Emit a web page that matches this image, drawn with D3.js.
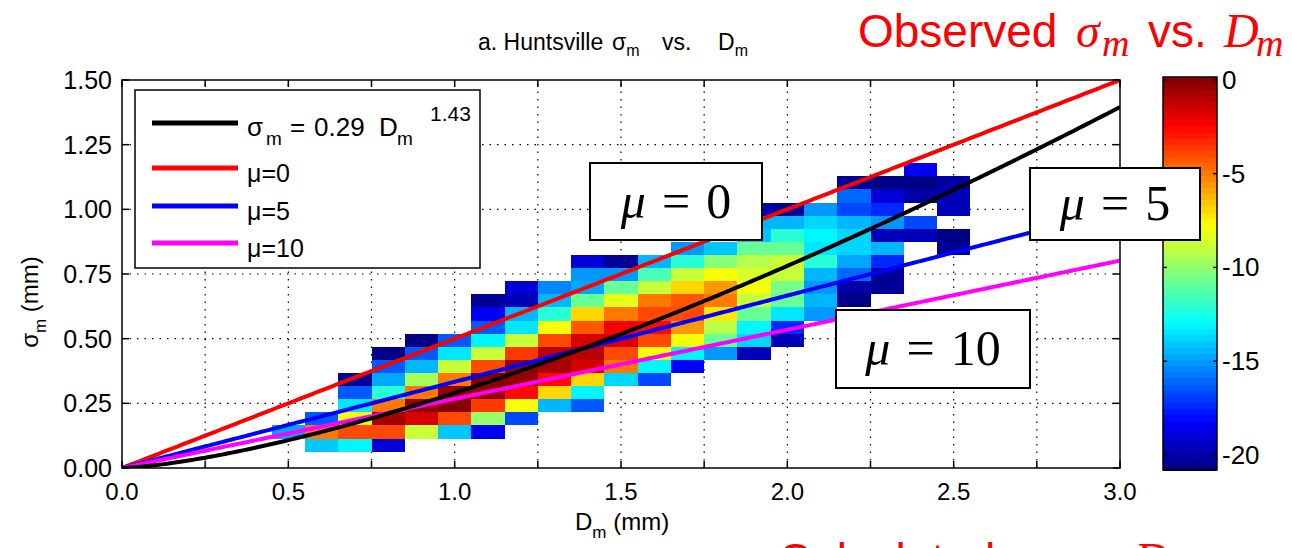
<!DOCTYPE html>
<html><head><meta charset="utf-8">
<script src="https://cdn.jsdelivr.net/npm/d3@7"></script>
<style>
  body { margin: 0; background: #fff; }
  svg { font-family: "Liberation Sans", Arial, sans-serif; }
</style>
</head><body>
<svg id="chart" width="1292" height="548"></svg>
<script>
// ---------- data ----------
// Dm bin centres (mm); each bin is 0.1 mm wide
const dmCenters = [0.5,0.6,0.7,0.8,0.9,1.0,1.1,1.2,1.3,1.4,1.5,1.6,1.7,1.8,1.9,2.0,2.1,2.2,2.3,2.4,2.5];
// sigma_m bins: lower edge of first bin and bin width (mm)
const sigmaFirstEdge = 0.063;
const sigmaBinWidth = 0.0507;
// log frequency of each (Dm, sigma_m) bin, lowest sigma bin first; null = empty
const logFreq = [
  [null, -14.8],
  [-14.0, -4.9, -16.4],
  [-13.0, -4.0, -8.0, -13.5, -16.4, -20.3],
  [-19.0, -4.0, -0.8, -4.9, -12.0, -14.8, -16.4, -20.5],
  [null, -8.8, -1.5, -0.3, -4.9, -9.5, -14.4, -16.4, -20.5],
  [null, -14.0, -4.0, -0.1, -0.2, -4.9, -9.0, -13.5, -16.4],
  [null, -18.5, -9.8, -3.7, -0.2, -0.1, -4.0, -8.8, -13.0, -16.4, -18.5, -20.3],
  [null, null, -16.6, -7.8, -2.5, -0.3, -0.5, -3.5, -9.0, -13.5, -14.3, -19.8, -19.0],
  [null, null, null, -14.3, -6.8, -2.5, -0.8, -1.0, -4.0, -8.0, -12.0, -14.5, -15.5],
  [null, null, null, -16.4, -13.0, -6.8, -1.8, -1.0, -1.8, -4.2, -7.0, -10.8, -14.8, -15.2, -19.0],
  [null, null, null, null, null, -13.6, -5.0, -4.0, -1.7, -2.2, -4.9, -8.3, -10.8, -15.0, -20.3],
  [null, null, null, null, null, -16.6, -13.0, -7.8, -4.0, -2.7, -4.0, -4.9, -8.7, -11.5, -14.4],
  [null, null, null, null, null, null, -18.5, -13.0, -8.0, -5.5, -4.0, -4.2, -6.8, -8.7, -12.0, -15.2],
  [null, null, null, null, null, null, null, -15.0, -10.8, -9.3, -7.3, -5.0, -5.5, -8.0, -10.0, -14.0],
  [null, null, null, null, null, null, null, -19.8, -13.8, -13.0, -10.8, -8.8, -7.8, -8.5, -9.3, -10.8, -14.2, -14.4, -19.5],
  [null, null, null, null, null, null, null, null, -19.5, -17.3, -13.5, -10.8, -10.5, -9.0, -8.8, -10.8, -12.0, -14.3, -20.3],
  [null, null, null, null, null, null, null, null, null, null, -15.2, -14.3, -15.2, -14.3, -12.0, -13.5, -13.2, -13.6, -15.2],
  [null, null, null, null, null, null, null, null, null, null, null, -20.5, -20.0, -16.2, -14.8, -13.8, -13.6, -14.4, -16.6, -16.0, -20.3],
  [null, null, null, null, null, null, null, null, null, null, null, null, -20.3, -20.3, -17.5, -14.5, -19.8, -15.2, -17.5, -19.0, -20.5],
  [null, null, null, null, null, null, null, null, null, null, null, null, null, null, null, null, -19.5, -16.6, null, -20.0, -20.7, -18.3],
  [null, null, null, null, null, null, null, null, null, null, null, null, null, null, null, -20.3, -20.5, null, -19.5, -19.8, -20.0]
];
// fitted power law sigma_m = a * Dm^b
const fitCoef = 0.29, fitExp = 1.43;
// gamma shape parameters for the theoretical curves
const muValues = [0, 5, 10];
const muColors = ["#ff0000", "#0000ff", "#ff00ff"];
// tick values
const xTicks = [0, 0.25, 0.5, 0.75, 1, 1.25, 1.5, 1.75, 2, 2.25, 2.5, 2.75, 3];
const xTickLabels = [0, 0.5, 1, 1.5, 2, 2.5, 3];
const yTicks = [0, 0.25, 0.5, 0.75, 1, 1.25, 1.5];
const cTicks = [0, -5, -10, -15, -20];
const cDomain = [-20.8, 0.15];

// ---------- layout ----------
const svg = d3.select("#chart");
const x = d3.scaleLinear().domain([0, 3]).range([122, 1120]);
const y = d3.scaleLinear().domain([0, 1.5]).range([468, 80]);
const SERIF = "'Liberation Serif', 'DejaVu Serif', serif";

// MATLAB jet colormap, 64 levels
function jet(f) {
  const c = v => Math.max(0, Math.min(1, v));
  const r = c(1.5 - Math.abs(4 * f - 3)), g = c(1.5 - Math.abs(4 * f - 2)), b = c(1.5 - Math.abs(4 * f - 1));
  return d3.rgb(r * 255, g * 255, b * 255).formatHex();
}
const nLevels = 64;
const level = d3.scaleQuantize().domain(cDomain).range(d3.range(nLevels));
const colorOf = v => jet((level(v) + 0.5) / nLevels);

// ---------- grid ----------
const grid = svg.append("g").attr("stroke", "#000").attr("stroke-width", 1.2)
  .attr("stroke-dasharray", "1.5,6");
grid.selectAll("line.gx").data(xTicks.slice(1, -1)).join("line")
  .attr("class", "gx")
  .attr("x1", d => x(d)).attr("x2", d => x(d)).attr("y1", y(0)).attr("y2", y(1.5));
grid.selectAll("line.gy").data(yTicks.slice(1, -1)).join("line")
  .attr("class", "gy")
  .attr("y1", d => y(d)).attr("y2", d => y(d)).attr("x1", x(0)).attr("x2", x(3));

// ---------- histogram cells ----------
const cells = [];
logFreq.forEach((col, i) => col.forEach((v, j) => {
  if (v !== null) cells.push({ d: dmCenters[i], lo: sigmaFirstEdge + j * sigmaBinWidth, v });
}));
svg.append("g").attr("shape-rendering", "crispEdges")
  .selectAll("rect").data(cells).join("rect")
  .attr("x", d => x(d.d - 0.05)).attr("width", d => x(d.d + 0.05) - x(d.d - 0.05))
  .attr("y", d => y(d.lo + sigmaBinWidth)).attr("height", d => y(d.lo) - y(d.lo + sigmaBinWidth))
  .attr("fill", d => colorOf(d.v));

// ---------- curves ----------
svg.append("clipPath").attr("id", "plotClip").append("rect")
  .attr("x", x(0)).attr("y", y(1.5)).attr("width", x(3) - x(0)).attr("height", y(0) - y(1.5));
const dGrid = d3.range(0, 3.0001, 0.01);
const line = d3.line().x(d => x(d[0])).y(d => y(d[1]));
const curves = svg.append("g").attr("clip-path", "url(#plotClip)").attr("fill", "none").attr("stroke-width", 4);
muValues.forEach((mu, i) => {
  curves.append("path").attr("stroke", muColors[i])
    .attr("d", line(dGrid.map(d => [d, d / Math.sqrt(4 + mu)])));
});
curves.append("path").attr("stroke", "#000")
  .attr("d", line(dGrid.map(d => [d, fitCoef * Math.pow(d, fitExp)])));

// ---------- axes frame and ticks ----------
const axes = svg.append("g").attr("stroke", "#000").attr("stroke-width", 1.5);
axes.append("rect").attr("x", x(0)).attr("y", y(1.5)).attr("width", x(3) - x(0)).attr("height", y(0) - y(1.5))
  .attr("fill", "none");
const tl = 7;
xTicks.forEach(t => {
  axes.append("line").attr("x1", x(t)).attr("x2", x(t)).attr("y1", y(0)).attr("y2", y(0) - tl);
  axes.append("line").attr("x1", x(t)).attr("x2", x(t)).attr("y1", y(1.5)).attr("y2", y(1.5) + tl);
});
yTicks.forEach(t => {
  axes.append("line").attr("y1", y(t)).attr("y2", y(t)).attr("x1", x(0)).attr("x2", x(0) + tl);
  axes.append("line").attr("y1", y(t)).attr("y2", y(t)).attr("x1", x(3)).attr("x2", x(3) - tl);
});
svg.append("g").selectAll("text").data(xTickLabels).join("text")
  .attr("x", d => x(d)).attr("y", 500).attr("text-anchor", "middle")
  .attr("font-size", 24).text(d => d.toFixed(1));
svg.append("g").selectAll("text").data(yTicks).join("text")
  .attr("x", 112).attr("y", d => y(d) + 9).attr("text-anchor", "end")
  .attr("font-size", 25).text(d => d.toFixed(2));

// axis titles
const xl = svg.append("text").attr("x", 575).attr("y", 530).attr("font-size", 24);
xl.append("tspan").text("D");
xl.append("tspan").attr("dy", 8).attr("font-size", 17).text("m");
xl.append("tspan").attr("dy", -8).text(" (mm)");
const yl = svg.append("text").attr("transform", "translate(38,302) rotate(-90)")
  .attr("text-anchor", "middle").attr("font-size", 24);
yl.append("tspan").text("σ");
yl.append("tspan").attr("dy", 8).attr("font-size", 17).text("m");
yl.append("tspan").attr("dy", -8).text(" (mm)");

// title
const title = svg.append("text").attr("y", 50).attr("font-size", 23);
title.append("tspan").attr("x", 478).text("a. Huntsville");
title.append("tspan").attr("x", 612).text("σ");
title.append("tspan").attr("dy", 6).attr("font-size", 16).text("m");
title.append("tspan").attr("x", 662).attr("dy", -6).text("vs.");
title.append("tspan").attr("x", 718).text("D");
title.append("tspan").attr("dy", 6).attr("font-size", 16).text("m");

// ---------- legend ----------
const lg = svg.append("g");
lg.append("rect").attr("x", 135).attr("y", 90).attr("width", 345).attr("height", 178)
  .attr("fill", "#fff").attr("stroke", "#000").attr("stroke-width", 1.5);
const legendRows = [
  { c: "#000", y: 123 }, { c: muColors[0], y: 168 }, { c: muColors[1], y: 206 }, { c: muColors[2], y: 243 }
];
legendRows.forEach(r => lg.append("line").attr("x1", 152).attr("x2", 238).attr("y1", r.y).attr("y2", r.y)
  .attr("stroke", r.c).attr("stroke-width", 5));
const l0 = lg.append("text").attr("y", 136).attr("font-size", 26);
l0.append("tspan").attr("x", 247).text("σ");
l0.append("tspan").attr("x", 266).attr("dy", 9).attr("font-size", 19).text("m");
l0.append("tspan").attr("x", 290).attr("dy", -9).text("=");
l0.append("tspan").attr("x", 314).text(fitCoef);
l0.append("tspan").attr("x", 379).text("D");
l0.append("tspan").attr("x", 397).attr("dy", 9).attr("font-size", 19).text("m");
lg.append("text").attr("x", 430).attr("y", 121).attr("font-size", 21).text(fitExp);
muValues.forEach((mu, i) => lg.append("text").attr("x", 247).attr("y", legendRows[i + 1].y + 14)
  .attr("font-size", 25).text("μ=" + mu));

// ---------- colorbar ----------
const cb = d3.scaleLinear().domain(cDomain).range([470, 77]);
const cbx = 1163, cbw = 54;
const bands = d3.range(nLevels);
const step = (cDomain[1] - cDomain[0]) / nLevels;
svg.append("g").attr("shape-rendering", "crispEdges").selectAll("rect").data(bands).join("rect")
  .attr("x", cbx).attr("width", cbw)
  .attr("y", i => cb(cDomain[0] + (i + 1) * step)).attr("height", i => cb(cDomain[0] + i * step) - cb(cDomain[0] + (i + 1) * step) + 0.5)
  .attr("fill", i => jet((i + 0.5) / nLevels));
svg.append("rect").attr("x", cbx).attr("y", cb(cDomain[1])).attr("width", cbw).attr("height", cb(cDomain[0]) - cb(cDomain[1]))
  .attr("fill", "none").attr("stroke", "#000").attr("stroke-width", 1.5);
cTicks.forEach(t => {
  svg.append("line").attr("x1", cbx).attr("x2", cbx + 4).attr("y1", cb(t)).attr("y2", cb(t)).attr("stroke", "#000").attr("stroke-width", 1.5);
  svg.append("line").attr("x1", cbx + cbw).attr("x2", cbx + cbw - 4).attr("y1", cb(t)).attr("y2", cb(t)).attr("stroke", "#000").attr("stroke-width", 1.5);
  svg.append("text").attr("x", cbx + cbw + 5).attr("y", cb(t) + 9).attr("font-size", 26).text(t === 0 ? "0" : "-" + Math.abs(t));
});

// ---------- annotation boxes ----------
function muBox(x0, y0, w, h, mu) {
  const g = svg.append("g");
  g.append("rect").attr("x", x0).attr("y", y0).attr("width", w).attr("height", h)
    .attr("fill", "#fff").attr("stroke", "#000").attr("stroke-width", 2);
  const t = g.append("text").attr("x", x0 + w / 2).attr("y", y0 + h / 2 + 16).attr("text-anchor", "middle")
    .style("font-family", SERIF).attr("font-size", 50);
  t.append("tspan").attr("font-style", "italic").text("μ");
  t.append("tspan").attr("dx", 16).text("=");
  t.append("tspan").attr("dx", 16).text(mu);
}
muBox(590, 163, 172, 77, 0);
muBox(1030, 168, 170, 72, 5);
muBox(836, 310, 194, 78, 10);

// ---------- red headings ----------
function heading(x0, y0, word, xs) {
  const t = svg.append("text").attr("y", y0).attr("fill", "#ff0000").attr("font-size", 46);
  const it = (sel, size) => sel.style("font-family", SERIF).attr("font-style", "italic").attr("font-size", size);
  t.append("tspan").attr("x", x0).text(word);
  it(t.append("tspan").attr("x", xs[0]), 48).text("σ");
  it(t.append("tspan").attr("x", xs[0] + 26).attr("dy", 9), 38).text("m");
  t.append("tspan").attr("x", xs[1]).attr("dy", -9).text("vs.");
  it(t.append("tspan").attr("x", xs[2]), 48).text("D");
  it(t.append("tspan").attr("x", xs[2] + 32).attr("dy", 9), 38).text("m");
}
heading(858, 47, "Observed", [1076, 1148, 1224]);
heading(778, 576, "Calculated", [1012, 1072, 1134]);
</script>
</body></html>
